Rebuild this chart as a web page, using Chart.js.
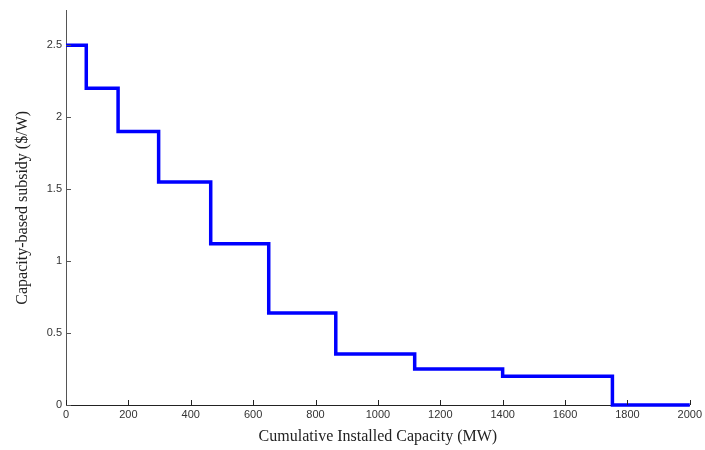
<!DOCTYPE html>
<html>
<head>
<meta charset="utf-8">
<script src="https://cdn.jsdelivr.net/npm/chart.js@4/dist/chart.umd.min.js"></script>
<style>
  html, body { margin: 0; padding: 0; background: #fff; }
</style>
</head>
<body>
<canvas id="subsidyChart" width="705" height="450"></canvas>
<script>
// step edges (MW) and the subsidy level that starts at each edge ($/W)
const capacityMW = [0, 65, 167, 297, 464, 650, 865, 1118, 1400, 1752, 2000];
const subsidy = [2.5, 2.2, 1.9, 1.55, 1.12, 0.64, 0.355, 0.25, 0.2, 0, 0];
const xTicks = [0, 200, 400, 600, 800, 1000, 1200, 1400, 1600, 1800, 2000];
const yTicks = [0, 0.5, 1, 1.5, 2, 2.5];

const AXIS = { x: "#222", y: "#555" };

// MATLAB style: tick marks point into the plot
const inwardTicks = {
  id: "inwardTicks",
  afterDraw(chart) {
    const { ctx, scales } = chart;
    const xs = scales.x, ys = scales.y;
    ctx.save();
    ctx.lineWidth = 1;
    ctx.strokeStyle = AXIS.x;
    xTicks.forEach((v) => {
      const px = Math.round(xs.getPixelForValue(v)) + 0.5;
      ctx.beginPath();
      ctx.moveTo(px, ys.bottom);
      ctx.lineTo(px, ys.bottom - 5);
      ctx.stroke();
    });
    ctx.strokeStyle = AXIS.y;
    yTicks.forEach((v) => {
      const py = Math.round(ys.getPixelForValue(v)) + 0.5;
      ctx.beginPath();
      ctx.moveTo(xs.left, py);
      ctx.lineTo(xs.left + 5, py);
      ctx.stroke();
    });
    ctx.restore();
  },
};

new Chart(document.getElementById("subsidyChart"), {
  type: "line",
  data: {
    datasets: [{
      data: capacityMW.map((x, i) => ({ x, y: subsidy[i] })),
      borderColor: "#0000ff",
      borderWidth: 3.5,
      stepped: "before",
      pointRadius: 0,
      fill: false,
      clip: false,
    }],
  },
  options: {
    responsive: false,
    animation: false,
    layout: { padding: { top: 9, right: 0, left: 0, bottom: 0 } },
    plugins: { legend: { display: false }, tooltip: { enabled: false } },
    scales: {
      x: {
        type: "linear",
        min: 0,
        max: 2000,
        afterBuildTicks: (s) => { s.ticks = xTicks.map((value) => ({ value })); },
        afterFit: (s) => { s.height = 45; },
        grid: { display: true, drawOnChartArea: false, drawTicks: false },
        border: { color: AXIS.x, width: 1 },
        ticks: {
          padding: 3,
          color: "#333",
          font: { family: "Liberation Sans", size: 11 },
          callback: (v) => String(v),
        },
        title: {
          display: true,
          text: "Cumulative Installed Capacity (MW)",
          color: "#222",
          font: { family: "Liberation Serif", size: 16 },
          padding: { top: 0, bottom: 4 },
        },
      },
      y: {
        type: "linear",
        min: 0,
        max: 2.74,
        afterBuildTicks: (s) => { s.ticks = yTicks.map((value) => ({ value })); },
        afterFit: (s) => { s.width = 66; },
        grid: { display: true, drawOnChartArea: false, drawTicks: false },
        border: { color: AXIS.y, width: 1 },
        ticks: {
          padding: 4,
          color: "#333",
          font: { family: "Liberation Sans", size: 11 },
          callback: (v) => String(v),
        },
        title: {
          display: true,
          text: "Capacity-based subsidy ($/W)",
          color: "#222",
          font: { family: "Liberation Serif", size: 16 },
          padding: { top: 13, bottom: 0 },
        },
      },
    },
  },
  plugins: [inwardTicks],
});
</script>
</body>
</html>
